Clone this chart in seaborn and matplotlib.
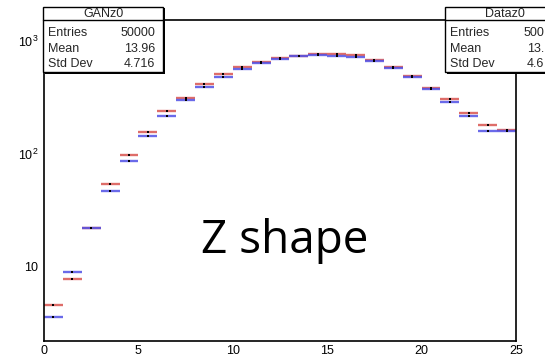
import numpy as np
import pandas as pd
import matplotlib
matplotlib.use("Agg")
import matplotlib.pyplot as plt
from matplotlib.patches import Rectangle
from matplotlib.ticker import FixedLocator, NullFormatter
import seaborn as sns

# z0 distribution, 25 unit-wide bins from 0 to 25
bin_edges = list(range(0, 26))
gan_counts = [4.6, 7.9, 22, 54, 97, 157, 242, 315, 416, 507, 589, 650, 707,
              742, 767, 762, 745, 684, 588, 490, 386, 307, 232, 181, 164]
data_counts = [3.6, 9.1, 22, 47, 87, 143, 217, 301, 392, 483, 565, 636, 689,
               730, 747, 741, 728, 666, 575, 477, 373, 287, 217, 160, 160]

x_ticks = [0, 5, 10, 15, 20, 25]
y_ticks = [10, 100, 1000]
y_tick_labels = ["10", "$10^{2}$", "$10^{3}$"]

gan_stats = [("Entries", "50000"), ("Mean", "13.96"), ("Std Dev", "4.716")]
# the right-hand box runs past the canvas edge, so only its leading digits show
data_stats = [("Entries", "500"), ("Mean", "13."), ("Std Dev", "4.6")]

sns.set_style("white")
plt.rcParams["font.family"] = ["Liberation Sans", "DejaVu Sans"]
plt.rcParams["mathtext.fontset"] = "custom"
plt.rcParams["mathtext.rm"] = "Liberation Sans"

W, H = 545, 356
fig = plt.figure(figsize=(W / 100, H / 100), dpi=100)
fig.patch.set_facecolor("white")

def fx(px):
    return px / W

def fy(py):
    return 1 - py / H

ax = fig.add_axes([fx(44), fy(341), fx(516) - fx(44), fy(19.5) - fy(341)])
ax.set_facecolor("white")

centers = [(a + b) / 2 for a, b in zip(bin_edges[:-1], bin_edges[1:])]
df = pd.DataFrame({
    "z": centers * 2,
    "count": gan_counts + data_counts,
    "sample": ["GAN"] * len(centers) + ["Data"] * len(centers),
})

red = "#d9534f"
blue = "#5050e6"
for name, col in [("GAN", red), ("Data", blue)]:
    sub = df[df["sample"] == name]
    ax.errorbar(sub["z"], sub["count"], xerr=0.5, fmt="none",
                ecolor=col, elinewidth=1.7, alpha=0.85, zorder=2)
sns.scatterplot(data=df, x="z", y="count", color="black", marker="s",
                s=2.5, linewidth=0, ax=ax, zorder=3, legend=False)

ax.set_yscale("log")
ax.set_xlim(0, 25)
ax.set_ylim(10 ** 0.345, 10 ** 3.19)
ax.set_xlabel("")
ax.set_ylabel("")

ax.set_xticks(x_ticks)
ax.set_xticklabels([str(t) for t in x_ticks])
ax.xaxis.set_minor_locator(FixedLocator(np.arange(0, 26, 1)))
ax.set_yticks(y_ticks)
ax.set_yticklabels(y_tick_labels)
minor_y = [m * 10 ** e for e in range(0, 4) for m in range(2, 10)]
ax.yaxis.set_minor_locator(FixedLocator(minor_y))
ax.yaxis.set_minor_formatter(NullFormatter())

ax.tick_params(axis="both", which="both", direction="in", top=False,
               right=False, labelsize=9, width=1.0, colors="black")
ax.tick_params(axis="x", which="major", length=6.5, pad=3)
ax.tick_params(axis="x", which="minor", length=3.5)
ax.tick_params(axis="y", which="major", length=10, pad=4)
ax.tick_params(axis="y", which="minor", length=5)
for s in ax.spines.values():
    s.set_color("black")
    s.set_linewidth(1.2)

ax.text(0.51, 0.31, "Z shape", transform=ax.transAxes, ha="center",
        va="center", fontsize=33, family=["Open Sans", "DejaVu Sans"],
        color="black")

# statistics boxes
def stats_box(x0, title, rows, value_x):
    top, sep, bottom, width = 7, 19.5, 72, 120
    shadow = Rectangle((fx(x0 + 1.5), fy(bottom + 1.5)), width / W,
                       (bottom - top) / H, transform=fig.transFigure,
                       facecolor="black", edgecolor="none", zorder=5)
    box = Rectangle((fx(x0), fy(bottom)), width / W, (bottom - top) / H,
                    transform=fig.transFigure, facecolor="white",
                    edgecolor="black", linewidth=1.0, zorder=6)
    fig.add_artist(shadow)
    fig.add_artist(box)
    fig.add_artist(plt.Line2D([fx(x0), fx(x0 + width)], [fy(sep), fy(sep)],
                              transform=fig.transFigure, color="black",
                              linewidth=1.0, zorder=7))
    fig.text(fx(x0 + width / 2), fy((top + sep) / 2 + 0.5), title,
             ha="center", va="center", fontsize=9, zorder=8)
    for i, (k, v) in enumerate(rows):
        yc = 33 + i * 15.5
        fig.text(fx(x0 + 5), fy(yc), k, ha="left", va="center",
                 fontsize=9, zorder=8)
        fig.text(fx(value_x), fy(yc), v, ha="right", va="center",
                 fontsize=9, zorder=8)

stats_box(43, "GANz0", gan_stats, 155)
stats_box(445, "Dataz0", data_stats, 544)

fig.savefig("out.png", dpi=100)
